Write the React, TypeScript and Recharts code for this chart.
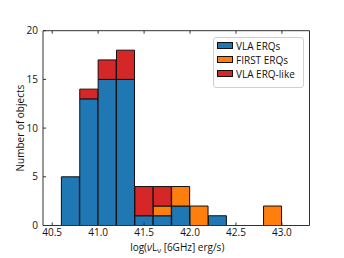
import React from 'react';
import { BarChart, Bar, XAxis, YAxis, Legend } from 'recharts';

const binStarts = [40.6, 40.8, 41.0, 41.2, 41.4, 41.6, 41.8, 42.0, 42.2, 42.4, 42.6, 42.8, 43.0];
const binWidth = 0.2;
const vlaErqs = [5, 13, 15, 15, 1, 1, 2, 0, 1, 0, 0, 0, 0];
const firstErqs = [0, 0, 0, 0, 0, 1, 2, 2, 0, 0, 0, 2, 0];
const vlaErqLike = [0, 1, 2, 3, 3, 2, 0, 0, 0, 0, 0, 0, 0];
const xTicks = [40.5, 41.0, 41.5, 42.0, 42.5, 43.0];
const yTicks = [0, 5, 10, 15, 20];
const xDomain = [40.4, 43.3];
const yDomain = [0, 20];
const seriesKeys = ['vla', 'first', 'like'];
const seriesNames = ['VLA ERQs', 'FIRST ERQs', 'VLA ERQ-like'];
const colors = ['#1f77b4', '#ff7f0e', '#d62728'];

const data = binStarts.map((s, i) => ({
  x: +(s + binWidth / 2).toFixed(2),
  vla: vlaErqs[i],
  first: firstErqs[i],
  like: vlaErqLike[i],
}));

const FONT = '"Open Sans", "Noto Sans", sans-serif';
const AX = '#333';

const LegendBox = () => (
  <div
    style={{
      border: '1px solid #d0d0d0',
      borderRadius: 3,
      background: 'rgba(255,255,255,0.85)',
      padding: '1px 8px 6px 3px',
      fontFamily: FONT,
      fontSize: 10,
      color: '#111',
    }}
  >
    {seriesNames.map((n, i) => (
      <div key={n} style={{ display: 'flex', alignItems: 'center', height: 14, lineHeight: '14px' }}>
        <span
          style={{
            display: 'inline-block',
            width: 14,
            height: 5,
            background: colors[i],
            border: '1px solid #111',
            marginRight: 3,
          }}
        />
        <span>{n}</span>
      </div>
    ))}
  </div>
);

const XLabel = (props: any) => {
  const vb = props.viewBox || {};
  const cx = vb.x + vb.width / 2 + 1;
  return (
    <text x={cx} y={250.8} textAnchor="middle" fontFamily={FONT} fontSize={10} fill="#111">
      <tspan>log(</tspan>
      <tspan fontStyle="italic">ν</tspan>
      <tspan>L</tspan>
      <tspan fontSize={7} dy={2}>ν</tspan>
      <tspan dy={-2}> [6GHz] erg/s)</tspan>
    </text>
  );
};

const YLabel = (props: any) => {
  const vb = props.viewBox || {};
  const cy = vb.y + vb.height / 2;
  return (
    <text
      x={20}
      y={cy}
      transform={`rotate(-90, 20, ${cy})`}
      textAnchor="middle"
      dominantBaseline="central"
      fontFamily={FONT}
      fontSize={10}
      fill="#111"
    >
      Number of objects
    </text>
  );
};

export default function App() {
  const tickStyle = { fontFamily: FONT, fontSize: 10, fill: '#111' };
  return (
    <div style={{ position: 'fixed', left: 0, top: 0, width: 344, height: 258, background: '#fff' }}>
      <BarChart
        width={344}
        height={258}
        data={data}
        margin={{ top: 29.7, right: 33.5, bottom: 12.5, left: 13 }}
        barCategoryGap={0}
        barGap={0}
      >
        <XAxis
          dataKey="x"
          type="number"
          domain={xDomain}
          ticks={xTicks}
          allowDataOverflow
          tickFormatter={(v: number) => v.toFixed(1)}
          height={20}
          tickSize={-3}
          tickMargin={6.5}
          tick={tickStyle}
          axisLine={{ stroke: AX }}
          tickLine={{ stroke: AX }}
          label={{ content: XLabel }}
        />
        <XAxis
          xAxisId="top"
          orientation="top"
          dataKey="x"
          type="number"
          domain={xDomain}
          ticks={xTicks}
          allowDataOverflow
          tickFormatter={() => ''}
          height={1}
          tickSize={-3}
          axisLine={{ stroke: AX }}
          tickLine={{ stroke: AX }}
        />
        <YAxis
          type="number"
          domain={yDomain}
          ticks={yTicks}
          width={30}
          tickSize={-3}
          tickMargin={8}
          tick={tickStyle}
          axisLine={{ stroke: AX }}
          tickLine={{ stroke: AX }}
          label={{ content: YLabel }}
        />
        <YAxis
          yAxisId="right"
          orientation="right"
          type="number"
          domain={yDomain}
          ticks={yTicks}
          width={1}
          tickFormatter={() => ''}
          tickSize={-3}
          axisLine={{ stroke: AX }}
          tickLine={{ stroke: AX }}
        />
        <Legend
          layout="vertical"
          align="center"
          verticalAlign="middle"
          content={<LegendBox />}
          wrapperStyle={{ left: 213, top: 36.7, width: 'auto', height: 'auto' }}
        />
        {seriesKeys.map((k, i) => (
          <Bar
            key={k}
            dataKey={k}
            name={seriesNames[i]}
            stackId="h"
            fill={colors[i]}
            stroke="#111"
            strokeWidth={1}
            isAnimationActive={false}
          />
        ))}
      </BarChart>
    </div>
  );
}
